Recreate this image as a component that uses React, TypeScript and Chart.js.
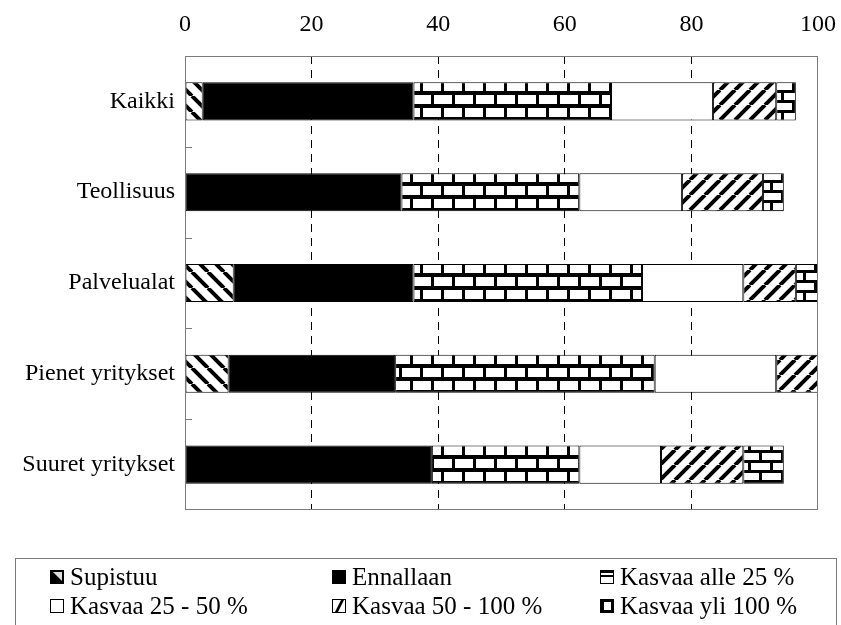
import React, { useEffect, useRef } from 'react';
import { Chart, registerables } from 'chart.js';

Chart.register(...registerables);

const categories = ['Kaikki', 'Teollisuus', 'Palvelualat', 'Pienet yritykset', 'Suuret yritykset'];
const seriesNames = ['Supistuu', 'Ennallaan', 'Kasvaa alle 25 %', 'Kasvaa 25 - 50 %', 'Kasvaa 50 - 100 %', 'Kasvaa yli 100 %'];
const supistuu = [2.8, 0, 7.7, 6.9, 0];
const ennallaan = [33.3, 34.2, 28.4, 26.3, 39.0];
const alle25 = [31.2, 28.1, 36.1, 41.0, 23.3];
const kasvaa25_50 = [16.1, 16.2, 16.0, 19.2, 12.9];
const kasvaa50_100 = [10.0, 12.8, 8.3, 6.6, 13.0];
const yli100 = [3.1, 3.3, 3.5, 0, 6.4];
const xTicks = [0, 20, 40, 60, 80, 100];

const FONT = '"Liberation Serif", "Times New Roman", serif';

function makeTile(w: number, h: number, draw: (ctx: CanvasRenderingContext2D) => void) {
  const c = document.createElement('canvas');
  c.width = w;
  c.height = h;
  const ctx = c.getContext('2d')!;
  ctx.fillStyle = '#fff';
  ctx.fillRect(0, 0, w, h);
  draw(ctx);
  return c;
}

function stripeTile(forward: boolean, s: number, lw: number) {
  return makeTile(s, s, (ctx) => {
    ctx.strokeStyle = '#000';
    ctx.lineWidth = lw;
    ctx.beginPath();
    for (let k = -1; k <= 1; k++) {
      if (forward) {
        ctx.moveTo(k * s, s);
        ctx.lineTo(k * s + s, 0);
      } else {
        ctx.moveTo(k * s, 0);
        ctx.lineTo(k * s + s, s);
      }
    }
    ctx.stroke();
  });
}

function brickTile(w: number, rowH: number, hm: number, vm: number) {
  return makeTile(w, rowH * 2, (ctx) => {
    ctx.fillStyle = '#000';
    ctx.fillRect(0, 0, w, hm);
    ctx.fillRect(0, rowH, w, hm);
    ctx.fillRect(0, 0, vm, rowH);
    ctx.fillRect(Math.round(w / 2), rowH, vm, rowH);
  });
}

function drawLegendIcon(ctx: CanvasRenderingContext2D, idx: number, x: number, y: number, s: number) {
  ctx.save();
  ctx.lineWidth = 1;
  ctx.strokeStyle = '#000';
  if (idx === 0) {
    ctx.fillStyle = '#000';
    ctx.fillRect(x, y, s, s);
    ctx.fillStyle = '#ddd';
    ctx.beginPath();
    ctx.moveTo(x + 3, y + 2);
    ctx.lineTo(x + s - 2, y + 2);
    ctx.lineTo(x + s - 2, y + s - 3);
    ctx.closePath();
    ctx.fill();
  } else if (idx === 1) {
    ctx.fillStyle = '#000';
    ctx.fillRect(x, y, s, s);
  } else if (idx === 2) {
    ctx.fillStyle = '#fff';
    ctx.fillRect(x, y, s, s);
    ctx.fillStyle = '#000';
    ctx.fillRect(x, y, s, 3);
    ctx.fillRect(x, y + 5, s, 2);
    ctx.strokeRect(x + 0.5, y + 0.5, s - 1, s - 1);
  } else if (idx === 3) {
    ctx.fillStyle = '#fff';
    ctx.fillRect(x, y, s, s);
    ctx.strokeRect(x + 0.5, y + 0.5, s - 1, s - 1);
  } else if (idx === 4) {
    ctx.fillStyle = '#fff';
    ctx.fillRect(x, y, s, s);
    ctx.fillStyle = '#000';
    ctx.beginPath();
    ctx.moveTo(x + 3, y + s - 1);
    ctx.lineTo(x + s - 5, y + 1);
    ctx.lineTo(x + s - 2, y + 1);
    ctx.lineTo(x + 6, y + s - 1);
    ctx.closePath();
    ctx.fill();
    ctx.strokeRect(x + 0.5, y + 0.5, s - 1, s - 1);
  } else {
    ctx.fillStyle = '#000';
    ctx.fillRect(x, y, s, s);
    ctx.fillStyle = '#fff';
    ctx.fillRect(x + 4, y + 3, s - 7, s - 6);
  }
  ctx.restore();
}

const framePlugin = {
  id: 'frameAndLegend',
  afterDraw(chart: any) {
    const { ctx, chartArea } = chart;
    const { left, top, right, bottom } = chartArea;
    ctx.save();
    ctx.strokeStyle = '#7a7a7a';
    ctx.lineWidth = 1;
    ctx.strokeRect(left + 0.5, top + 0.5, right - left - 1, bottom - top - 1);
    // inward category ticks
    const y = chart.scales.y;
    ctx.beginPath();
    for (let i = 0; i < categories.length - 1; i++) {
      const py = Math.round((y.getPixelForValue(i) + y.getPixelForValue(i + 1)) / 2) + 0.5;
      ctx.moveTo(left, py);
      ctx.lineTo(left + 7, py);
    }
    ctx.stroke();

    // legend box
    ctx.strokeStyle = '#7a7a7a';
    ctx.strokeRect(15.5, 558.5, 821, 90);
    ctx.font = '25px ' + FONT;
    ctx.textBaseline = 'middle';
    ctx.textAlign = 'left';
    const colX = [50, 332, 600];
    const rowY = [577, 606];
    for (let i = 0; i < seriesNames.length; i++) {
      const cx = colX[i % 3];
      const cy = rowY[Math.floor(i / 3)];
      drawLegendIcon(ctx, i, cx, cy - 7, 14);
      ctx.fillStyle = '#000';
      ctx.fillText(seriesNames[i], cx + 20, cy + 1);
    }
    ctx.restore();
  },
};

export default function App() {
  const ref = useRef<HTMLCanvasElement>(null);

  useEffect(() => {
    const canvas = ref.current!;
    const ctx = canvas.getContext('2d')!;
    const pSup = ctx.createPattern(stripeTile(false, 16, 4), 'repeat');
    const pAlle = ctx.createPattern(brickTile(21, 13, 4, 3), 'repeat');
    const p50 = ctx.createPattern(stripeTile(true, 15, 4), 'repeat');
    const pYli = ctx.createPattern(brickTile(22, 10, 3, 3), 'repeat');

    const values = [supistuu, ennallaan, alle25, kasvaa25_50, kasvaa50_100, yli100];
    const fills: any[] = [pSup, '#000', pAlle, '#fff', p50, pYli];

    const chart = new Chart(canvas, {
      type: 'bar',
      data: {
        labels: categories,
        datasets: values.map((d, i) => ({
          label: seriesNames[i],
          data: d,
          backgroundColor: fills[i],
          borderColor: '#000',
          borderWidth: 1,
          borderSkipped: false,
          barPercentage: 0.42,
          categoryPercentage: 1,
        })),
      },
      options: {
        indexAxis: 'y',
        responsive: false,
        animation: false,
        devicePixelRatio: 1,
        layout: { padding: { left: 0, top: 0, right: 23, bottom: 115 } },
        plugins: { legend: { display: false }, tooltip: { enabled: false } },
        scales: {
          x: {
            stacked: true,
            position: 'top',
            min: 0,
            max: 100,
            afterBuildTicks: (s: any) => {
              s.ticks = xTicks.map((v) => ({ value: v }));
            },
            afterFit: (s: any) => {
              s.height = 56;
              s.paddingLeft = 0;
              s.paddingRight = 0;
            },
            ticks: { padding: 17, color: '#000', font: { family: FONT, size: 24 } },
            grid: {
              drawTicks: false,
              lineWidth: 1,
              color: (c: any) => (c.tick && (c.tick.value === 0 || c.tick.value === 100) ? 'rgba(0,0,0,0)' : '#000'),
            },
            border: { display: false, dash: [8, 6] },
          },
          y: {
            stacked: true,
            afterFit: (s: any) => {
              s.width = 185;
              s.paddingTop = 0;
              s.paddingBottom = 0;
            },
            grid: { display: false },
            border: { display: false },
            ticks: { padding: 2, color: '#000', font: { family: FONT, size: 24 } },
          },
        },
      },
      plugins: [framePlugin],
    });
    return () => chart.destroy();
  }, []);

  return (
    <div style={{ position: 'fixed', left: 0, top: 0, width: 841, height: 625, background: '#fff' }}>
      <canvas ref={ref} width={841} height={625} style={{ width: 841, height: 625, display: 'block' }} />
    </div>
  );
}
